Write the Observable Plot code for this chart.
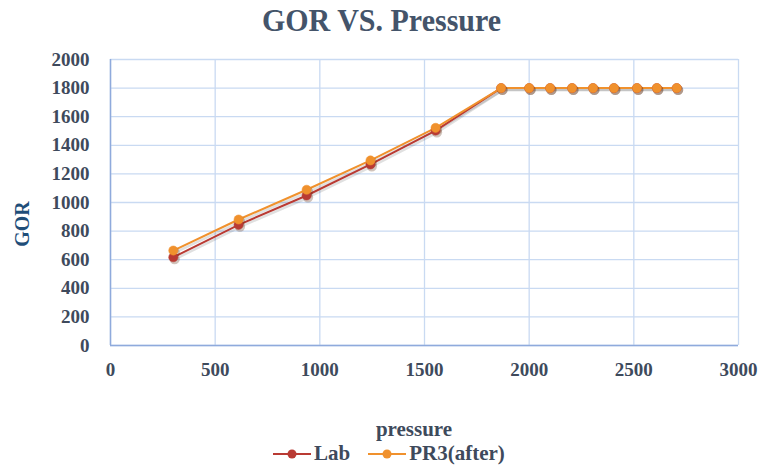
<!DOCTYPE html>
<html>
<head>
<meta charset="utf-8">
<script src="https://cdn.jsdelivr.net/npm/d3@7"></script>
<script src="https://cdn.jsdelivr.net/npm/@observablehq/plot@0.6"></script>
<style>
  html, body { margin: 0; padding: 0; background: #fff; }
  #chart { position: relative; width: 763px; height: 468px; font-family: "Liberation Serif", "Times New Roman", serif; font-weight: bold; color: #3e4a5c; }
  #title { position: absolute; top: 3px; left: 0; width: 763px; text-align: center; font-size: 30px; color: #44546a; transform: scaleY(1.08); }
  #plot { position: absolute; top: 40px; left: 0; }
  #plot text { font-family: "Liberation Serif", "Times New Roman", serif; }
  #ylabel { position: absolute; left: 22px; top: 224px; transform: translate(-50%, -50%) rotate(-90deg); font-size: 20px; color: #1f4e79; }
  #xlabel { position: absolute; left: 414px; top: 417px; transform: translateX(-50%); font-size: 21px; color: #3e4a5c; }
  #legend { position: absolute; top: 441px; left: 273px; display: flex; align-items: center; font-size: 21px; color: #3e4a5c; }
  .key { display: flex; align-items: center; margin-right: 18px; }
  .key svg { margin-right: 3px; }
</style>
</head>
<body>
<div id="chart">
  <div id="title">GOR VS. Pressure</div>
  <div id="ylabel">GOR</div>
  <div id="xlabel">pressure</div>
  <div id="legend"></div>
</div>
<script>
// Pressure steps (psi) and gas–oil ratio for each series
const pressure = [300, 612, 937, 1242, 1553, 1866, 2000, 2100, 2205, 2305, 2405, 2515, 2610, 2705];
const lab      = [617, 844, 1049, 1266, 1503, 1800, 1800, 1800, 1800, 1800, 1800, 1800, 1800, 1800];
const pr3After = [664, 881, 1089, 1294, 1522, 1800, 1800, 1800, 1800, 1800, 1800, 1800, 1800, 1800];
const seriesNames = ["Lab", "PR3(after)"];
const seriesColors = ["#b93a33", "#f0912d"];
const xTicks = [0, 500, 1000, 1500, 2000, 2500, 3000];
const yTicks = [0, 200, 400, 600, 800, 1000, 1200, 1400, 1600, 1800, 2000];

const rows = [
  ...pressure.map((p, i) => ({series: seriesNames[0], pressure: p, gor: lab[i]})),
  ...pressure.map((p, i) => ({series: seriesNames[1], pressure: p, gor: pr3After[i]}))
];

const serif = "Liberation Serif, Times New Roman, serif";

const chart = Plot.plot({
  width: 763,
  height: 400,
  marginLeft: 110,
  marginRight: 25,
  marginTop: 19,
  marginBottom: 95,
  style: {fontFamily: serif, fontSize: "19px", fontWeight: "bold", color: "#3e4a5c", background: "transparent"},
  x: {domain: [0, 3000]},
  y: {domain: [0, 2000]},
  color: {domain: seriesNames, range: seriesColors},
  marks: [
    Plot.gridX(xTicks, {stroke: "#c9daf2", strokeOpacity: 1, strokeWidth: 1.3}),
    Plot.gridY(yTicks, {stroke: "#c9daf2", strokeOpacity: 1, strokeWidth: 1.3}),
    Plot.ruleX([0], {stroke: "#8faadc", strokeWidth: 1.5}),
    Plot.ruleY([0], {stroke: "#8faadc", strokeWidth: 1.5}),
    Plot.axisX(xTicks, {tickSize: 0, tickPadding: 17, label: null, tickFormat: d3.format("d"), fontFamily: serif, fontSize: 19, fontWeight: "bold"}),
    Plot.axisY(yTicks, {tickSize: 0, tickPadding: 21, label: null, tickFormat: d3.format("d"), fontFamily: serif, fontSize: 19, fontWeight: "bold"}),
    // soft drop shadow under lines and markers
    Plot.line(rows, {x: "pressure", y: "gor", z: "series", stroke: "#000", strokeOpacity: 0.12, strokeWidth: 2.5, dx: 1.5, dy: 2}),
    Plot.line(rows, {x: "pressure", y: "gor", stroke: "series", strokeWidth: 2}),
    Plot.dot(rows, {x: "pressure", y: "gor", r: 5.2, fill: "#5a2a10", fillOpacity: 0.28, dx: 1.3, dy: 1.8}),
    Plot.dot(rows, {x: "pressure", y: "gor", r: 4.6, fill: "series", stroke: "series", strokeWidth: 0.5})
  ]
});
chart.id = "plot";
document.getElementById("chart").appendChild(chart);

// Legend entries drawn with the same colours as the series
const legend = document.getElementById("legend");
seriesNames.forEach((name, i) => {
  const key = document.createElement("div");
  key.className = "key";
  key.innerHTML = `<svg width="38" height="14"><line x1="0" y1="7" x2="38" y2="7" stroke="${seriesColors[i]}" stroke-width="2"/><circle cx="19" cy="7" r="4.5" fill="${seriesColors[i]}"/></svg><span>${name}</span>`;
  legend.appendChild(key);
});
</script>
</body>
</html>
